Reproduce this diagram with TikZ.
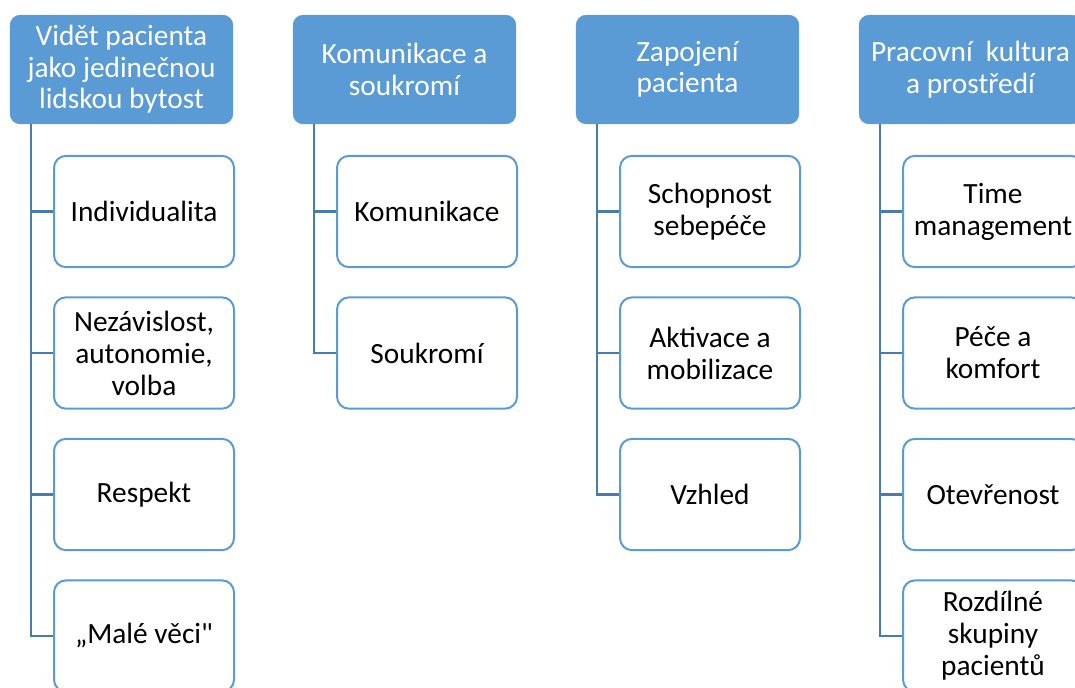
\documentclass[tikz,border=0pt]{standalone}
\usepackage{fontspec}
\setmainfont{Carlito}[Ligatures=TeXOff]
\definecolor{hdrblue}{HTML}{5B9BD5}
\definecolor{linkblue}{HTML}{4A7AAE}
\begin{document}
\begin{tikzpicture}[x=0.75pt,y=-0.75pt,
  hdr/.style={draw=hdrblue,fill=hdrblue,rounded corners=7.5pt,minimum width=167pt,minimum height=81.5pt,
    inner sep=0pt,align=center,text=white,font=\fontsize{22}{23.6}\selectfont},
  item/.style={draw=hdrblue,fill=white,line width=1.5pt,rounded corners=9pt,minimum width=135pt,minimum height=83.5pt,
    inner sep=0pt,align=center,text=black,font=\fontsize{22}{24}\selectfont},
  link/.style={draw=linkblue,line width=1.6pt}]
\useasboundingbox (0,0) rectangle (1075,687);

% column headers
\node[hdr] (h1) at (121.5,69.5) {Vidět pacienta\\jako jedinečnou\\lidskou bytost};
\node[hdr] (h2) at (404.5,69.5) {Komunikace a\\soukromí};
\node[hdr] (h3) at (687.5,69.5) {Zapojení\\pacienta};
\node[hdr] (h4) at (970.5,69.5) {Pracovní\ \ kultura\\a prostředí};

% column 1
\node[item] (a1) at (144,211.5) {Individualita};
\node[item] (a2) at (144,353) {Nezávislost,\\autonomie,\\volba};
\node[item] (a3) at (144,494.5) {Respekt};
\node[item] (a4) at (144,636) {„Malé věci"};
% column 2
\node[item] (b1) at (427,211.5) {Komunikace};
\node[item] (b2) at (427,353) {Soukromí};
% column 3
\node[item] (c1) at (710,211.5) {Schopnost\\sebepéče};
\node[item] (c2) at (710,353) {Aktivace a\\mobilizace};
\node[item] (c3) at (710,494.5) {Vzhled};
% column 4
\node[item] (d1) at (993,211.5) {Time\\management};
\node[item] (d2) at (993,353) {Péče a\\komfort};
\node[item] (d3) at (993,494.5) {Otevřenost};
\node[item] (d4) at (993,636) {Rozdílné\\skupiny\\pacientů};

% connectors: trunk from header's lower left, branch to each item
\foreach \h/\list in {h1/{a1,a2,a3,a4},h2/{b1,b2},h3/{c1,c2,c3},h4/{d1,d2,d3,d4}}{
  \foreach \c in \list{
    \draw[link] ([xshift=16pt]\h.south west) |- (\c.west);
  }
}
\end{tikzpicture}
\end{document}
